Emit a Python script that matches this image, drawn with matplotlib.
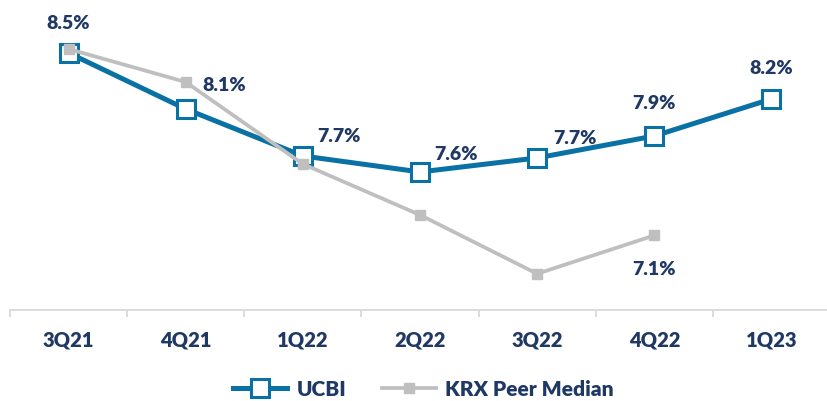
import matplotlib
matplotlib.use("Agg")
import matplotlib.pyplot as plt
import numpy as np

categories = ["3Q21", "4Q21", "1Q22", "2Q22", "3Q22", "4Q22", "1Q23"]
ucbi = [8.50, 8.076, 7.721, 7.60, 7.706, 7.872, 8.152]
ucbi_labels = ["8.5%", "8.1%", "7.7%", "7.6%", "7.7%", "7.9%", "8.2%"]
peer = [8.53, 8.28, 7.66, 7.275, 6.83, 7.12]
peer_labels = {5: "7.1%"}

BLUE = "#0A71A4"
GRAY = "#BFBFBF"
NAVY = "#1F3864"
FONT = "Lato"
W = "heavy"

fig = plt.figure(figsize=(8.27, 4.02), dpi=100)
ax = fig.add_axes([10/827, 91/402, 820/827, 311/402])
x = np.arange(len(categories))
xp = np.arange(len(peer))

ax.plot(x, ucbi, color=BLUE, lw=3.6, marker="s", ms=12.5, mfc="white",
        mec=BLUE, mew=2.2, label="UCBI", zorder=3)
ax.plot(xp, peer, color=GRAY, lw=2.7, marker="s", ms=7, mfc=GRAY,
        mec=GRAY, label="KRX Peer Median", zorder=4)

# label offsets (points)
offsets = [(0, 22), (28, 18), (26, 15), (26, 13), (27, 15), (0, 24), (0, 23)]
for i, (v, lab) in enumerate(zip(ucbi, ucbi_labels)):
    ax.annotate(lab, (x[i], v), xytext=offsets[i], textcoords="offset points",
                ha="center", va="center", fontsize=14, fontweight=W,
                color=NAVY, family=FONT)
for i, lab in peer_labels.items():
    ax.annotate(lab, (xp[i], peer[i]), xytext=(0, -24), textcoords="offset points",
                ha="center", va="center", fontsize=14, fontweight=W,
                color=NAVY, family=FONT)

ax.set_xlim(-0.5, len(categories) - 0.5)
ax.set_ylim(6.556, 8.908)
ax.set_xticks(np.arange(-0.5, len(categories), 1.0))
ax.set_xticklabels([])
ax.set_xticks(x, minor=True)
ax.set_xticklabels(categories, minor=True, fontsize=14.5, fontweight=W,
                   color=NAVY, family=FONT)
ax.tick_params(axis="x", which="major", length=5, width=1.3, color="#D9D9D9")
ax.tick_params(axis="x", which="minor", length=0, pad=14)
ax.set_yticks([])
for s in ["top", "right", "left"]:
    ax.spines[s].set_visible(False)
ax.spines["bottom"].set_color("#D9D9D9")
ax.spines["bottom"].set_linewidth(1.3)

leg = fig.legend(loc="center", bbox_to_anchor=(0.512, 0.03), ncol=2, frameon=False,
                 handlelength=2.6, columnspacing=1.7, handletextpad=0.45,
                 prop={"family": FONT, "weight": W, "size": 15})
for t in leg.get_texts():
    t.set_color(NAVY)

fig.savefig("out.png", dpi=100)
